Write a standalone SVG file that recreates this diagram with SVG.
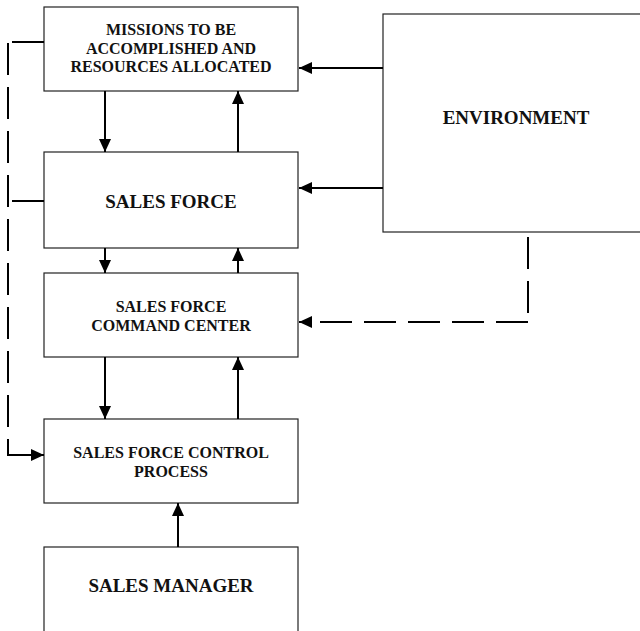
<svg xmlns="http://www.w3.org/2000/svg" width="640" height="631" viewBox="0 0 640 631">
<style>
.box{fill:#fff;stroke:#222;stroke-width:1.2}
.t{font-family:"Liberation Serif","Times New Roman",serif;font-weight:bold;fill:#111;text-anchor:middle}
.s{font-size:16px}
.l{font-size:19px}
.c{fill:none;stroke:#000;stroke-width:2}
.d{fill:none;stroke:#000;stroke-width:2;stroke-dasharray:32 12}
</style>
<defs>
<marker id="ah" viewBox="0 0 13 12" refX="13" refY="6" markerWidth="13" markerHeight="12" markerUnits="userSpaceOnUse" orient="auto">
<path d="M0,0 L13,6 L0,12 Z" fill="#000"/>
</marker>
</defs>
<rect width="640" height="631" fill="#fff"/>
<g id="missions">
<rect class="box" x="44" y="7" width="254" height="84"/>
<text class="t s" x="171" y="35">MISSIONS TO BE</text>
<text class="t s" x="171" y="53.5">ACCOMPLISHED AND</text>
<text class="t s" x="171" y="72">RESOURCES ALLOCATED</text>
</g>
<g id="salesforce">
<rect class="box" x="44" y="152" width="254" height="96"/>
<text class="t l" x="171" y="208">SALES FORCE</text>
</g>
<g id="command">
<rect class="box" x="44" y="273" width="254" height="84"/>
<text class="t s" x="171" y="312">SALES FORCE</text>
<text class="t s" x="171" y="330.5">COMMAND CENTER</text>
</g>
<g id="control">
<rect class="box" x="44" y="419" width="254" height="84"/>
<text class="t s" x="171" y="458">SALES FORCE CONTROL</text>
<text class="t s" x="171" y="476.5">PROCESS</text>
</g>
<g id="manager">
<rect class="box" x="44" y="547" width="254" height="90"/>
<text class="t l" x="171" y="592">SALES MANAGER</text>
</g>
<g id="environment">
<rect class="box" x="383" y="14" width="262" height="218"/>
<text class="t l" x="516" y="124">ENVIRONMENT</text>
</g>
<g id="connectors">
<line class="c" x1="383" y1="68" x2="299" y2="68" marker-end="url(#ah)"/>
<line class="c" x1="383" y1="188" x2="299" y2="188" marker-end="url(#ah)"/>
<line class="c" x1="105" y1="91" x2="105" y2="152" marker-end="url(#ah)"/>
<line class="c" x1="238" y1="152" x2="238" y2="91" marker-end="url(#ah)"/>
<line class="c" x1="105" y1="248" x2="105" y2="273" marker-end="url(#ah)"/>
<line class="c" x1="238" y1="273" x2="238" y2="248" marker-end="url(#ah)"/>
<line class="c" x1="105" y1="357" x2="105" y2="419" marker-end="url(#ah)"/>
<line class="c" x1="238" y1="419" x2="238" y2="357" marker-end="url(#ah)"/>
<line class="c" x1="178" y1="547" x2="178" y2="503" marker-end="url(#ah)"/>
<line class="c" x1="44" y1="42" x2="12" y2="42"/>
<line class="c" x1="44" y1="201" x2="12" y2="201"/>
<line class="d" x1="8" y1="43" x2="8" y2="447"/>
<path class="c" d="M8,447 V455 H44" marker-end="url(#ah)"/>
<line class="d" x1="528" y1="237" x2="528" y2="322"/>
<line class="d" x1="528" y1="322" x2="320" y2="322"/>
<line class="c" x1="312" y1="322" x2="299" y2="322" marker-end="url(#ah)"/>
</g>
</svg>
